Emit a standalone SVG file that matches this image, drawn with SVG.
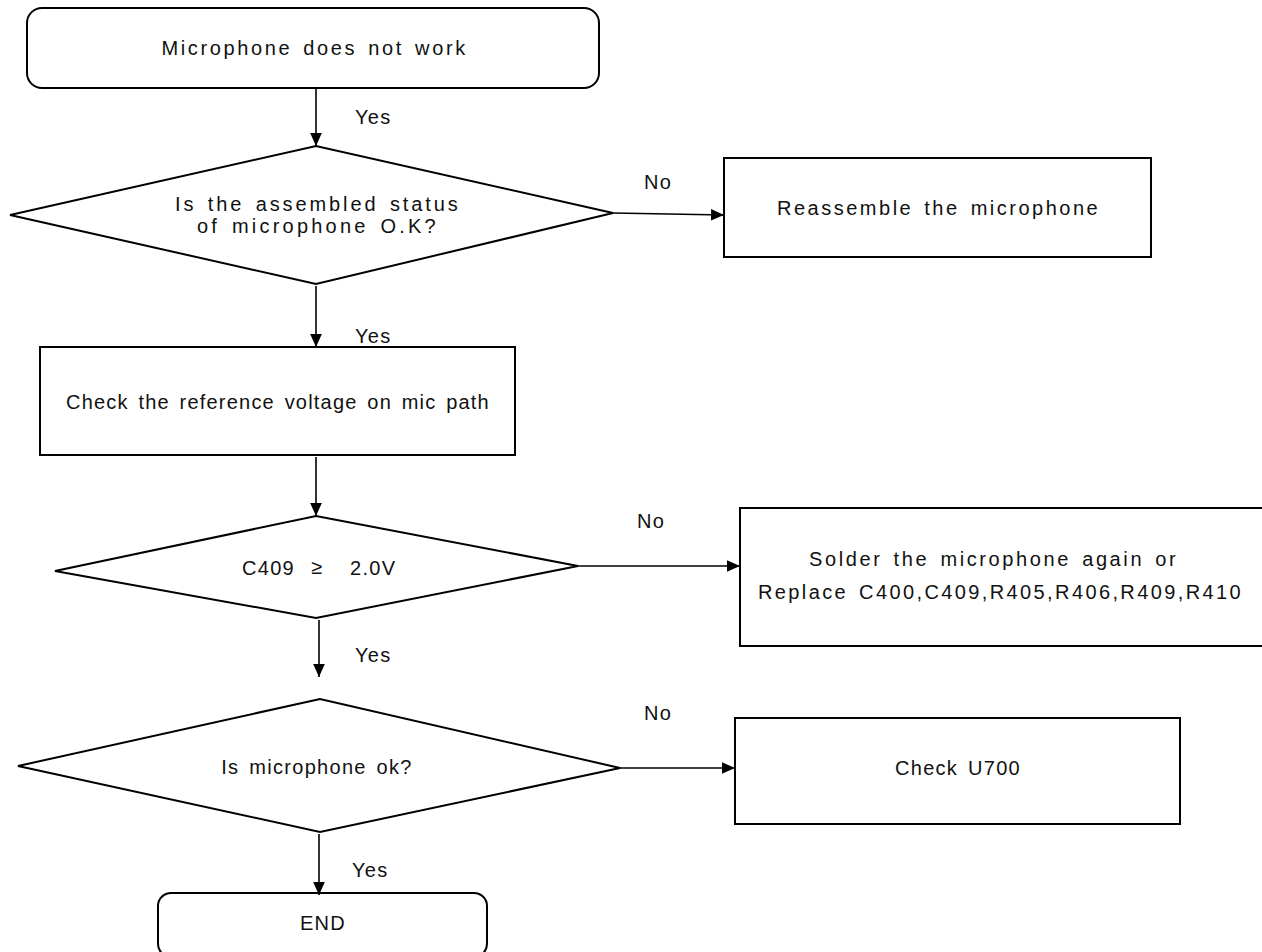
<svg xmlns="http://www.w3.org/2000/svg" width="1262" height="952" viewBox="0 0 1262 952">
<defs>
<marker id="ah" viewBox="0 0 10 10" refX="10" refY="5" markerWidth="13" markerHeight="13" markerUnits="userSpaceOnUse" orient="auto">
<path d="M0,0.5 L10,5 L0,9.5 Z" fill="#000"/>
</marker>
</defs>
<style>
.s{fill:#fff;stroke:#000;stroke-width:2}
.c{stroke:#000;stroke-width:1.6;fill:none;marker-end:url(#ah)}
text{font-family:"Liberation Sans",Arial,sans-serif;font-size:20px;fill:#111;letter-spacing:1.3px;word-spacing:3px}
.m{text-anchor:middle}
</style>
<rect width="1262" height="952" fill="#fff"/>
<g id="start">
<rect class="s" x="27" y="8" width="572" height="80" rx="15" ry="15"/>
<text class="m" x="314" y="55" textLength="305" lengthAdjust="spacing">Microphone does not work</text>
</g>
<g id="d1">
<polygon class="s" points="10,215 316,146 613,213 316,284"/>
<text class="m" x="317" y="211" textLength="284" lengthAdjust="spacing">Is the assembled status</text>
<text class="m" x="317" y="233" textLength="240" lengthAdjust="spacing">of microphone O.K?</text>
</g>
<g id="reassemble">
<rect class="s" x="724" y="158" width="427" height="99"/>
<text class="m" x="938" y="215" textLength="322" lengthAdjust="spacing">Reassemble the microphone</text>
</g>
<g id="check">
<rect class="s" x="40" y="347" width="475" height="108"/>
<text class="m" x="278" y="409" textLength="424" lengthAdjust="spacing">Check the reference voltage on mic path</text>
</g>
<g id="d2">
<polygon class="s" points="55,571 316,516 578,566 316,618"/>
<text x="242" y="575">C409</text>
<text x="311" y="574" font-size="13" letter-spacing="0">≥</text>
<text x="350" y="575" letter-spacing="1.8">2.0V</text>
</g>
<g id="solder">
<path class="s" d="M1262,508 H740 V646 H1262"/>
<text class="m" x="993" y="566" textLength="368" lengthAdjust="spacing">Solder the microphone again or</text>
<text class="m" x="1000" y="599" textLength="484" lengthAdjust="spacing">Replace C400,C409,R405,R406,R409,R410</text>
</g>
<g id="d3">
<polygon class="s" points="18,766 320,699 620,768 320,832"/>
<text class="m" x="317" y="774">Is microphone ok?</text>
</g>
<g id="u700">
<rect class="s" x="735" y="718" width="445" height="106"/>
<text class="m" x="958" y="775">Check U700</text>
</g>
<g id="end">
<rect class="s" x="158" y="893" width="329" height="64" rx="13" ry="13"/>
<text class="m" x="323" y="930">END</text>
</g>
<g id="connectors">
<line class="c" x1="316" y1="88" x2="316" y2="146"/>
<line class="c" x1="613" y1="213" x2="724" y2="215"/>
<line class="c" x1="316" y1="286" x2="316" y2="347"/>
<line class="c" x1="316" y1="457" x2="316" y2="516"/>
<line class="c" x1="578" y1="566" x2="740" y2="566"/>
<line class="c" x1="319" y1="620" x2="319" y2="677"/>
<line class="c" x1="620" y1="768" x2="735" y2="768"/>
<line class="c" x1="319" y1="834" x2="319" y2="895"/>
<text x="355" y="124">Yes</text>
<text x="644" y="189">No</text>
<text x="355" y="343">Yes</text>
<text x="637" y="528">No</text>
<text x="355" y="662">Yes</text>
<text x="644" y="720">No</text>
<text x="352" y="877">Yes</text>
</g>
</svg>
